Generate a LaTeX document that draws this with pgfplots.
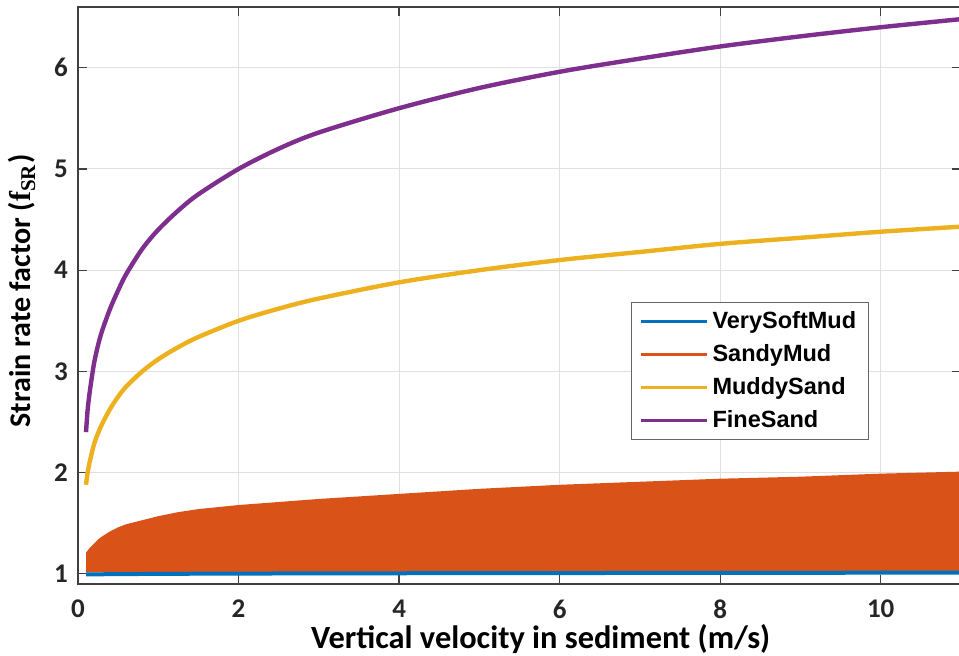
\documentclass[border=0pt]{standalone}
\usepackage{fontspec}
\setmainfont{Liberation Sans}
\newfontfamily\carlito{Carlito}
\newfontfamily\lserif{Liberation Serif}
\usepackage{pgfplots}
\pgfplotsset{compat=1.18}
\definecolor{mblue}{rgb}{0,0.447,0.741}
\definecolor{morange}{rgb}{0.850,0.325,0.098}
\definecolor{myellow}{rgb}{0.929,0.694,0.125}
\definecolor{mpurple}{rgb}{0.494,0.184,0.556}
\begin{document}
\begin{tikzpicture}
\begin{axis}[
  scale only axis, width=441.5pt, height=288.5pt,
  xmin=0, xmax=11, ymin=0.9, ymax=6.6,
  xtick={0,2,4,6,8,10}, ytick={1,2,3,4,5,6},
  grid=major, major grid style={black!12, line width=0.5pt},
  axis line style={black!75, line width=0.6pt},
  major tick style={black!75, line width=0.6pt}, major tick length=4.5pt,
  /pgf/number format/assume math mode=true,
  tick label style={font=\carlito\bfseries\fontsize{13.5}{15}\selectfont, text=black!85},
  xticklabel style={yshift=-4.5pt},
  yticklabel style={xshift=-1.5pt},
  xlabel={Vertical velocity in sediment (m/s)},
  xlabel style={at={(axis description cs:0.524,-0.1115)}, anchor=base, font=\carlito\bfseries\fontsize{16.2}{18}\selectfont},
  ylabel={Strain rate factor ({\lserif f\textsubscript{SR}})},
  ylabel style={at={(axis description cs:-0.0634,0.508)}, anchor=center, font=\carlito\bfseries\fontsize{15}{17}\selectfont},
  legend image code/.code={\draw[#1] (0pt,0pt) -- (33pt,0pt);},
  legend style={at={(axis description cs:0.6263,0.4894)}, anchor=north west, draw=black!60, line width=0.5pt, fill=white,
    font=\bfseries\fontsize{11.75}{14}\selectfont, inner xsep=4pt, inner ysep=2.5pt, row sep=2.6pt},
  legend cell align=left,
]
% SandyMud (dense band drawn as a filled region)
\addplot[draw=none, fill=morange, forget plot] coordinates {
(0.1,1.015) (0.1,1.21) (0.15,1.26) (0.2,1.30) (0.25,1.34) (0.3,1.37) (0.4,1.42) (0.5,1.46)
(0.6,1.49) (0.8,1.53) (1.0,1.57) (1.25,1.61) (1.5,1.64) (2,1.68) (2.5,1.71) (3,1.74)
(4,1.79) (5,1.84) (6,1.88) (7,1.91) (8,1.94) (9,1.96) (10,1.99) (11,2.01) (11,1.015)
};
% VerySoftMud
\addplot[mblue, line width=2pt, forget plot] coordinates {
(0.1,0.995) (1,1.000) (2,1.003) (4,1.006) (6,1.008) (8,1.010) (11,1.012)
};
% MuddySand
\addplot[myellow, line width=2.2pt, smooth, forget plot] coordinates {
(0.1,1.88) (0.12,2.00) (0.15,2.12) (0.2,2.28) (0.25,2.39) (0.3,2.48) (0.4,2.63) (0.5,2.75)
(0.6,2.85) (0.8,3.00) (1.0,3.12) (1.25,3.24) (1.5,3.34) (2,3.50) (2.5,3.62) (3,3.72)
(4,3.88) (5,4.00) (6,4.10) (7,4.18) (8,4.26) (9,4.32) (10,4.38) (11,4.43)
};
% FineSand
\addplot[mpurple, line width=2.2pt, smooth, forget plot] coordinates {
(0.1,2.40) (0.12,2.62) (0.15,2.82) (0.2,3.08) (0.25,3.26) (0.3,3.40) (0.4,3.62) (0.5,3.80)
(0.6,3.96) (0.8,4.21) (1.0,4.40) (1.25,4.59) (1.5,4.75) (2,5.00) (2.5,5.20) (3,5.36)
(4,5.60) (5,5.80) (6,5.96) (7,6.09) (8,6.21) (9,6.31) (10,6.40) (11,6.48)
};
\addlegendimage{mblue, line width=1.5pt}
\addlegendentry{VerySoftMud}
\addlegendimage{morange, line width=1.5pt}
\addlegendentry{SandyMud}
\addlegendimage{myellow, line width=1.5pt}
\addlegendentry{MuddySand}
\addlegendimage{mpurple, line width=1.5pt}
\addlegendentry{FineSand}
\end{axis}
\pgfresetboundingbox
\path (-39pt,-36pt) rectangle (440.5pt,292pt);
\end{tikzpicture}
\end{document}
